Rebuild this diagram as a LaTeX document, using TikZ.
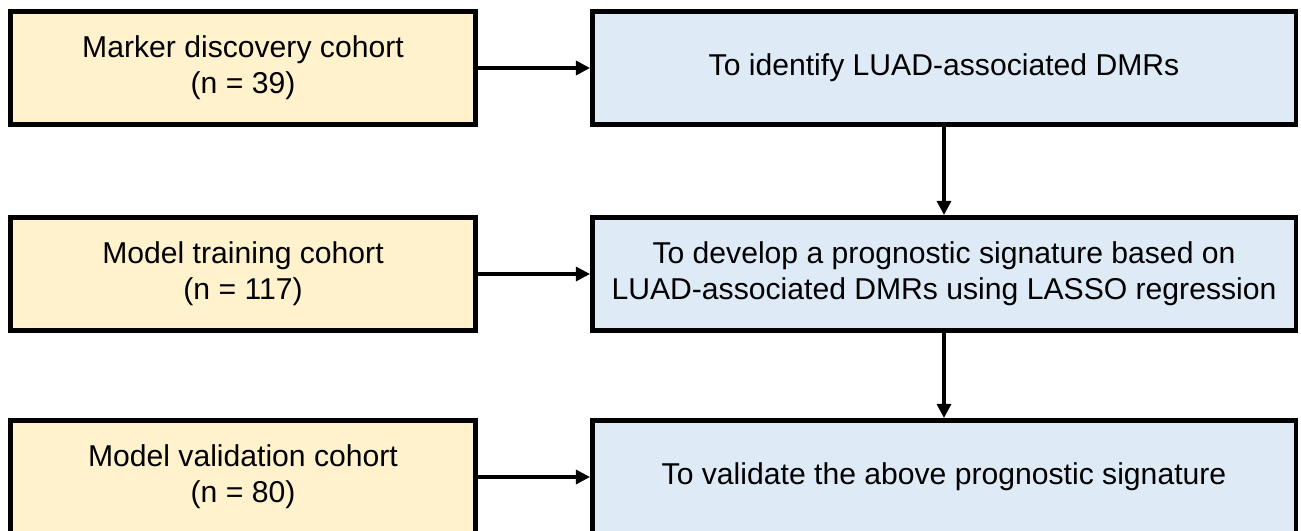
\documentclass[tikz,border=0pt]{standalone}
\usepackage{fontspec}
\setmainfont{Liberation Sans}
\usetikzlibrary{arrows.meta}
\definecolor{cohortfill}{HTML}{FFF2CC}
\definecolor{aimfill}{HTML}{DEEBF7}
\tikzset{
  box/.style={draw=black, line width=3.4pt, minimum height=113.5*0.75pt, align=center,
              font=\fontsize{22.6}{27}\selectfont, inner sep=0pt},
  cohort/.style={box, fill=cohortfill, minimum width=465.5*0.75pt},
  aim/.style={box, fill=aimfill, minimum width=703.5*0.75pt},
  conn/.style={line width=2.3pt, -{Triangle[length=10.5pt,width=10.5pt]}}
}
\begin{document}
\begin{tikzpicture}[x=0.75pt,y=-0.75pt]
\useasboundingbox (0,0) rectangle (1301,531);
\node[cohort] (c1) at (243,68) {Marker discovery cohort\\(n = 39)};
\node[cohort] (c2) at (243,274) {Model training cohort\\(n = 117)};
\node[cohort] (c3) at (243,477) {Model validation cohort\\(n = 80)};
\node[aim] (a1) at (944,68) {To identify LUAD-associated DMRs};
\node[aim] (a2) at (944,274) {To develop a prognostic signature based on\\LUAD-associated DMRs using LASSO regression};
\node[aim] (a3) at (944,477) {To validate the above prognostic signature};
\draw[conn] (c1.east) -- (a1.west);
\draw[conn] (c2.east) -- (a2.west);
\draw[conn] (c3.east) -- (a3.west);
\draw[conn] (a1.south) -- (a2.north);
\draw[conn] (a2.south) -- (a3.north);
\end{tikzpicture}
\end{document}
